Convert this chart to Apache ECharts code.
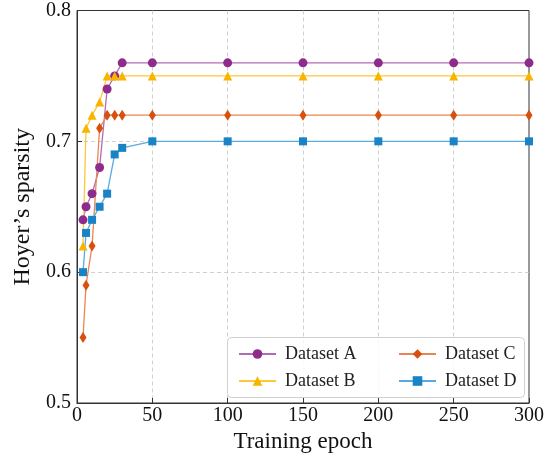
<!DOCTYPE html>
<html>
<head>
<meta charset="utf-8">
<script src="https://cdn.jsdelivr.net/npm/echarts@6/dist/echarts.min.js"></script>
<style>html,body{margin:0;padding:0;background:#fff}#c{width:559px;height:459px}</style>
</head>
<body>
<div id="c"></div>
<script>
const epochs = [4, 6, 10, 15, 20, 25, 30, 50, 100, 150, 200, 250, 300];
const datasetA = [0.64, 0.65, 0.66, 0.68, 0.74, 0.75, 0.76, 0.76, 0.76, 0.76, 0.76, 0.76, 0.76];
const datasetB = [0.62, 0.71, 0.72, 0.73, 0.75, 0.75, 0.75, 0.75, 0.75, 0.75, 0.75, 0.75, 0.75];
const datasetC = [0.55, 0.59, 0.62, 0.71, 0.72, 0.72, 0.72, 0.72, 0.72, 0.72, 0.72, 0.72, 0.72];
const datasetD = [0.60, 0.63, 0.64, 0.65, 0.66, 0.69, 0.695, 0.70, 0.70, 0.70, 0.70, 0.70, 0.70];
const seriesNames = ['Dataset A', 'Dataset B', 'Dataset C', 'Dataset D'];
const xTicks = [0, 50, 100, 150, 200, 250, 300];
const yTicks = [0.5, 0.6, 0.7, 0.8];

const FONT = '"Liberation Serif", "Times New Roman", serif';
const styles = [
  {marker: '#8E2C8E', line: '#B56AB5', symbol: 'circle', size: 9},
  {marker: '#F7B500', line: '#FFC83A', symbol: 'triangle', size: 9},
  {marker: '#D8500E', line: '#E98555', symbol: 'diamond', size: [7, 11]},
  {marker: '#1A83C6', line: '#5AAADF', symbol: 'rect', size: 8}
];
const values = [datasetA, datasetB, datasetC, datasetD];

const chart = echarts.init(document.getElementById('c'), null, {renderer: 'canvas'});
const series = values.map((vals, i) => ({
  name: seriesNames[i],
  type: 'line',
  data: epochs.map((e, j) => [e, vals[j]]),
  symbol: styles[i].symbol,
  symbolSize: styles[i].size,
  showSymbol: true,
  itemStyle: {color: styles[i].marker},
  lineStyle: {color: styles[i].line, width: 1.3},
  emphasis: {disabled: true},
  animation: false,
  clip: false
}));

const legendCommon = {
  orient: 'vertical',
  itemWidth: 37,
  itemHeight: 12,
  itemGap: 9,
  textStyle: {fontFamily: FONT, fontSize: 18, color: '#222', padding: [0, 0, 0, 4]},
  z: 10
};

const splitStyle = {show: true, showMinLine: false, showMaxLine: false,
  lineStyle: {color: '#c4c4c4', type: [4, 3], width: 0.8}};

chart.setOption({
  animation: false,
  grid: {left: 77, right: 30, top: 10.5, bottom: 56, show: true, borderColor: '#333', borderWidth: 1, containLabel: false},
  xAxis: {
    type: 'value', min: 0, max: 300, interval: 50,
    name: 'Training epoch', nameLocation: 'middle', nameGap: 26,
    nameTextStyle: {fontFamily: FONT, fontSize: 23, color: '#111'},
    axisLine: {show: true, lineStyle: {color: '#333', width: 1}},
    axisTick: {show: true, inside: true, length: 5, lineStyle: {color: '#333'}},
    axisLabel: {fontFamily: FONT, fontSize: 20, color: '#111', margin: 3,
      formatter: v => xTicks.includes(v) ? String(v) : ''},
    splitLine: splitStyle
  },
  yAxis: {
    type: 'value', min: 0.5, max: 0.8, interval: 0.1,
    name: 'Hoyer\u2019s sparsity', nameLocation: 'middle', nameGap: 34,
    nameTextStyle: {fontFamily: FONT, fontSize: 24, color: '#111'},
    axisLine: {show: true, lineStyle: {color: '#333', width: 1}},
    axisTick: {show: true, inside: true, length: 5, lineStyle: {color: '#333'}},
    axisLabel: {fontFamily: FONT, fontSize: 20, color: '#111', margin: 6,
      formatter: v => { const t = yTicks.find(y => Math.abs(y - v) < 1e-6); return t !== undefined ? t.toFixed(1) : ''; }},
    splitLine: splitStyle
  },
  graphic: [{
    type: 'rect', z: 5,
    shape: {x: 227.5, y: 337.5, width: 297, height: 60, r: 4},
    style: {fill: 'rgba(255,255,255,0.85)', stroke: '#d0d0d0', lineWidth: 1}
  }],
  legend: [
    Object.assign({}, legendCommon, {data: [seriesNames[0], seriesNames[1]], left: 233, top: 340}),
    Object.assign({}, legendCommon, {data: [seriesNames[2], seriesNames[3]], left: 393, top: 340})
  ],
  series: series
});
</script>
</body>
</html>
